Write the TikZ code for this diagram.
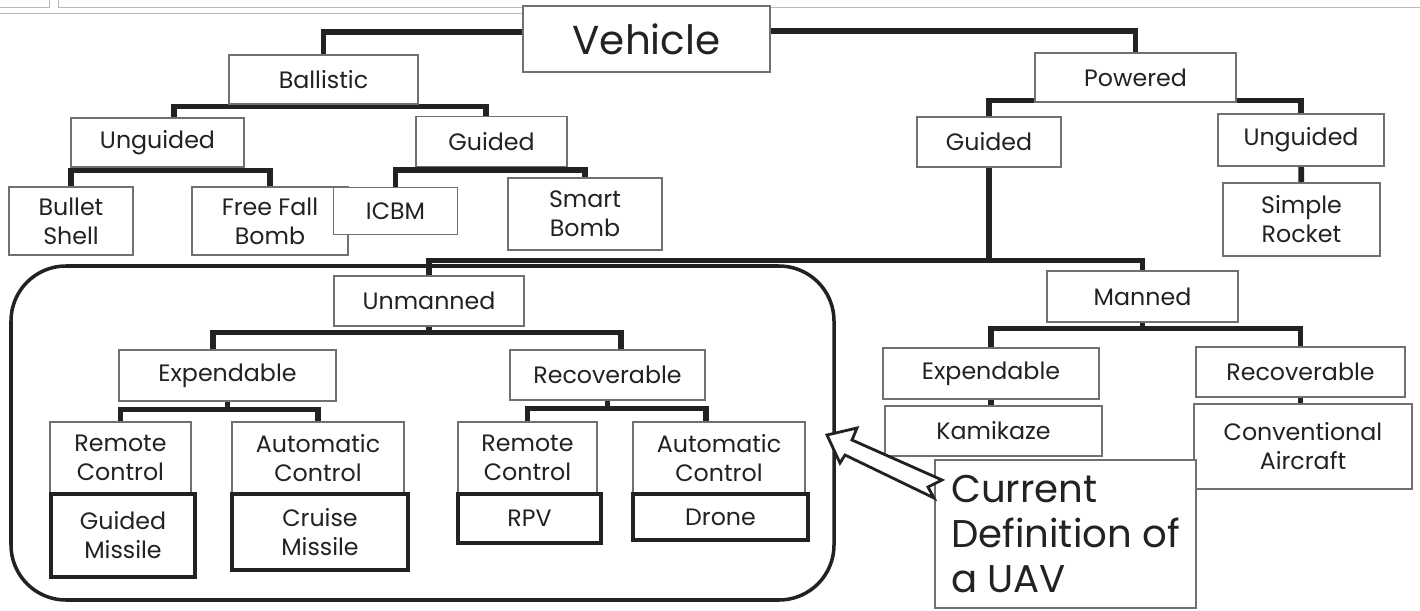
\documentclass[tikz,border=0pt]{standalone}
\usepackage{fontspec}
\setmainfont{Poppins}
\usetikzlibrary{calc,backgrounds}
\definecolor{boxline}{HTML}{707070}
\definecolor{ink}{HTML}{222222}

\tikzset{
  box/.style={draw=boxline, line width=0.6pt, fill=white, text=ink, align=center,
    inner sep=0pt, font=\fontsize{13.5}{16.5}\selectfont},
  leaf/.style={box, draw=ink, line width=2pt},
  wh/.style 2 args={minimum width=#1*0.02cm, minimum height=#2*0.02cm},
  bar/.style={ink, line width=3.2pt},
}

\begin{document}
\begin{tikzpicture}[x=0.02cm, y=-0.02cm]
    \useasboundingbox (0,0) rectangle (1420,611);

    % Page edge left over at the top
    \draw[gray!55, line width=0.5pt] (0,7) -- (49,7) -- (49,0) (58,0) -- (58,7) -- (1420,7) (0,13) -- (523,13);

    % Top of the tree
    \node[box, wh={247}{66}, font=\fontsize{23}{26}\selectfont] (vehicle) at (646.5,39) {Vehicle};
    \node[box, wh={189}{49}] (ballistic) at (323.5,79.5) {Ballistic};
    \node[box, wh={201}{49}] (powered) at (1135.5,77.5) {Powered};

    % Ballistic side
    \node[box, wh={173}{49}] (unguidedL) at (157.5,142.5) {Unguided};
    \node[box, wh={151}{50}] (guidedL) at (491.5,141.5) {Guided};
    \node[box, wh={124}{68}] (bullet) at (71,221) {Bullet\\Shell};
    \node[box, wh={156}{68}] (freefall) at (270,221) {Free Fall\\Bomb};
    \node[box, wh={124}{47}] (icbm) at (395.5,211) {ICBM};
    \node[box, wh={154}{72}] (smart) at (585,214) {Smart\\Bomb};

    % Powered side
    \node[box, wh={144}{50}] (guidedR) at (989,142) {Guided};
    \node[box, wh={166}{52}] (unguidedR) at (1301,140) {Unguided};
    \node[box, wh={157}{73}] (rocket) at (1301.5,219.5) {Simple\\Rocket};
    \coordinate (split) at ($(guidedR.south)+(0,93)$);

    % Unmanned
    \node[box, wh={190}{50}] (unmanned) at (429,301) {Unmanned};
    \node[box, wh={217}{51}] (expU) at (227.5,375.5) {Expendable};
    \node[box, wh={195}{50}] (recU) at (607.5,375) {Recoverable};
    \node[box, wh={141}{72}] (rc1) at (120.5,458) {Remote\\Control};
    \node[box, wh={172}{72}] (ac1) at (318,458) {Automatic\\Control};
    \node[box, wh={139}{72}] (rc2) at (527.5,458) {Remote\\Control};
    \node[box, wh={172}{72}] (ac2) at (719,458) {Automatic\\Control};
    \node[leaf, wh={144}{83}] (gm) at (123,535.5) {Guided\\Missile};
    \node[leaf, wh={176}{76}] (cm) at (320,532) {Cruise\\Missile};
    \node[leaf, wh={143}{49}] (rpv) at (529.5,518.5) {RPV};
    \node[leaf, wh={175}{46}] (drone) at (720.5,517) {Drone};

    % Manned
    \node[box, wh={191}{51}] (manned) at (1142.5,296.5) {Manned};
    \node[box, wh={216}{51}] (expM) at (991,373.5) {Expendable};
    \node[box, wh={217}{50}] (kamikaze) at (993.5,431) {Kamikaze};
    \node[box, wh={209}{50}] (recM) at (1300.5,372) {Recoverable};
    \node[box, wh={218}{85}] (conv) at (1303,446.5) {Conventional\\Aircraft};

    % Callout
    \node[box, wh={261}{148}, align=left, font=\fontsize{22}{25.6}\selectfont] (uavdef) at (1065.5,534) {Current\\Definition of\\a UAV};

    % Tree connectors, behind the boxes
    \begin{scope}[on background layer]
        \draw[bar] ([yshift=0.14cm]vehicle.west) -| (ballistic.north);
        \draw[bar] ([yshift=0.16cm]vehicle.east) -| (powered.north);

        \draw[bar] ([xshift=0.33cm]unguidedL.north) |- ([yshift=-0.04cm]ballistic.south) -| ([xshift=-0.11cm]guidedL.north);
        \draw[bar] (bullet.north) |- ([yshift=-0.06cm]unguidedL.south) -| (freefall.north);
        \draw[bar] (icbm.north) |- ([yshift=-0.06cm]guidedL.south) -| (smart.north);

        \draw[bar] (guidedR.north) |- ([yshift=0.04cm]powered.south) -| (unguidedR.north);
        \draw[bar] (unguidedR) -- (rocket);
        \draw[bar] (guidedR.south) -- (split);
        \draw[bar] (unmanned.north) |- (split) -| (manned.north);

        \draw[bar] (unmanned.south) -- ++(0,6) coordinate (umfork);
        \draw[bar] ([xshift=-0.29cm]expU.north) |- (umfork) -| ([xshift=0.27cm]recU.north);
        \draw[bar] (expU.south) -- ++(0,8) coordinate (eufork);
        \draw[bar] (rc1.north) |- (eufork) -| (ac1.north);
        \draw[bar] (recU.south) -- ++(0,8) coordinate (rufork);
        \draw[bar] (rc2.north) |- (rufork) -| ([xshift=-0.26cm]ac2.north);

        \draw[bar] (manned.south) -- ++(0,6) coordinate (mfork);
        \draw[bar] (expM.north) |- (mfork) -| (recM.north);
        \draw[bar] (expM.south) -- (expM.south |- kamikaze.north);
        \draw[bar] (recM.south) -- (recM.south |- conv.north);
    \end{scope}

    % Frame round the unmanned part
    \draw[ink, line width=2pt, rounded corners=1.1cm] (11,266) rectangle (834,600);

    % Hollow arrow from the callout
    \draw[ink, line width=1.6pt, fill=white, line join=miter]
        (827,435) -- (857,428) -- (852,440) -- (942,480) -- (928,487) -- (934,498) -- (845,455) -- (840,463) -- cycle;
\end{tikzpicture}
\end{document}
